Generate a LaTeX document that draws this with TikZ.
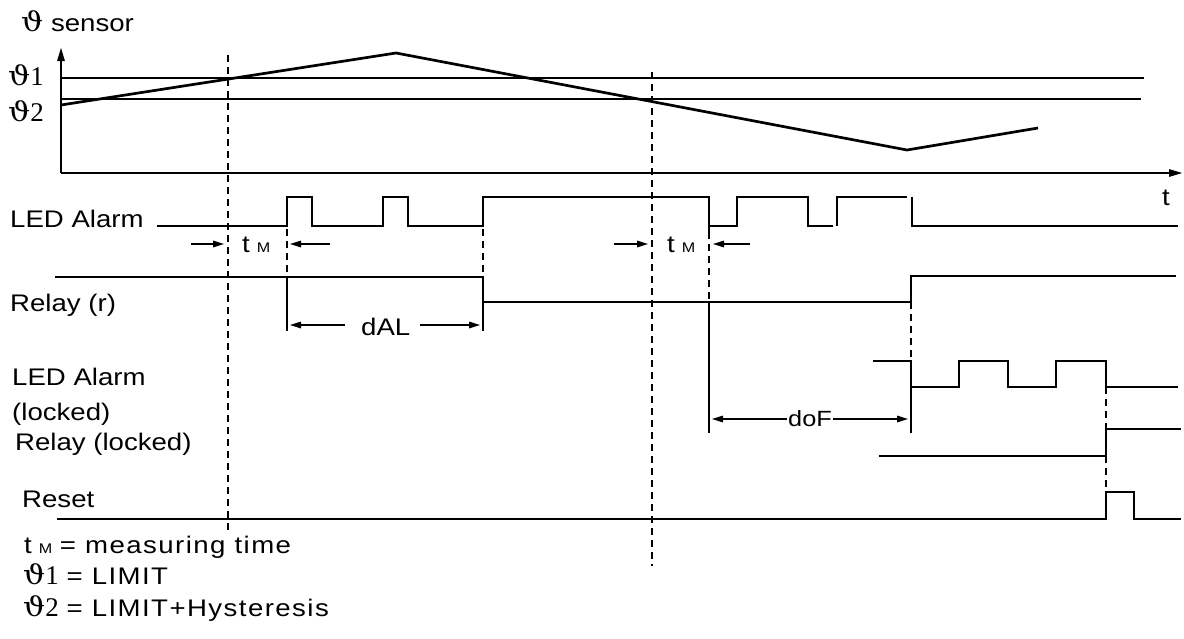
\documentclass[tikz,border=0pt]{standalone}
\usepackage{fontspec}
\setmainfont{Liberation Sans}[FakeStretch=1.15]
\newfontfamily\legfont{Liberation Sans}[FakeStretch=1.15, LetterSpace=6]
\newfontfamily\serfont{Liberation Serif}
\newfontfamily\thfont{DejaVu Serif}[FakeStretch=1.15]
\usetikzlibrary{arrows.meta}
\newcommand\thnum[1]{{\thfont\fontsize{27}{28}\selectfont ϑ}{\serfont\fontsize{27}{28}\selectfont #1}}
\newcommand\tMlabel{t\hspace{7pt}{\fontsize{14}{14}\selectfont M}}
\begin{document}
\begin{tikzpicture}[x=1pt,y=-1pt,
  sig/.style={line width=2.7pt, line join=miter},
  dsh/.style={line width=2.7pt, dash pattern=on 7pt off 5pt},
  lbl/.style={anchor=base west, inner sep=0pt, font=\fontsize{24}{28}\selectfont},
  dim/.style={line width=2.7pt, -{Triangle[length=12pt,width=6pt]}},
  ax/.style={line width=2.7pt, -{Triangle[length=14pt,width=7pt]}}]
\useasboundingbox (0,0) rectangle (1184,638);

% ---------- sensor diagram ----------
\coordinate (o) at (61,173);
\coordinate (ytop) at (61,47);
\coordinate (xend) at (1183,173);
\draw[ax] (o) -- (ytop);
\draw[ax] (o) -- (xend);
\draw[sig] (61,78) -- (1144,78);
\draw[sig] (61,99) -- (1141,99);
\draw[sig] (61,105) -- (396,53) -- (907,150) -- (1038,128);

\node[lbl] (tsens) at (21,31) {\thnum{}\ sensor};
\node[lbl] (th1) at (8,85) {\thnum{1}};
\node[lbl] (th2) at (8,121) {\thnum{2}};
\node[lbl] (tt) at (1162,205) {t};

% long dashed verticals
\draw[dsh] (228,55) -- (228,532);
\draw[dsh] (652,72) -- (652,566);

% ---------- LED Alarm ----------
\node[lbl] (ledA) at (10,227) {LED Alarm};
\draw[sig] (157,226) -- (287,226) -- (287,197) -- (312,197) -- (312,226)
  -- (383,226) -- (383,197) -- (408,197) -- (408,226) -- (483,226)
  -- (483,197) -- (709,197) -- (709,232);
\draw[sig] (709,226) -- (737,226) -- (737,197) -- (808,197) -- (808,226) -- (833,226);
\draw[sig] (837,226) -- (837,197) -- (907,197);
\draw[sig] (912,197) -- (912,226) -- (1178,226);

% t_M markers
\node[lbl] (tm1) at (242,252) {\tMlabel};
\draw[dim] (191,244) -- (225,244);
\draw[dim] (330,244) -- (289,244);
\node[lbl] (tm2) at (667,252) {\tMlabel};
\draw[dim] (614,244) -- (649,244);
\draw[dim] (750,244) -- (712,244);

% ---------- Relay (r) ----------
\node[lbl] (rel) at (10,311) {Relay (r)};
\draw[sig] (55,277) -- (483,277) -- (483,302) -- (911,302) -- (911,276) -- (1176,276);
\draw[dsh] (287,229) -- (287,277);
\draw[sig] (287,277) -- (287,331);
\draw[dsh] (483,229) -- (483,277);
\draw[sig] (483,277) -- (483,331);
\draw[dsh] (709,232) -- (709,302);
\draw[sig] (709,302) -- (709,433);

% dAL
\node[lbl] (dal) at (361,335) {dAL};
\draw[dim] (345,325) -- (289,325);
\draw[dim] (420,325) -- (481,325);

% ---------- LED Alarm (locked) ----------
\node[lbl] (ledL) at (12,385) {LED Alarm};
\node[lbl] (lock) at (12,420) {(locked)};
\draw[dsh] (911,302) -- (911,361);
\draw[sig] (873,361) -- (911,361) -- (911,433);
\draw[sig] (911,387) -- (959,387) -- (959,361) -- (1008,361) -- (1008,387)
  -- (1056,387) -- (1056,361) -- (1106,361) -- (1106,387) -- (1178,387);

% doF
\coordinate (dofL) at (711,419);
\coordinate (dofR) at (909,419);
\draw[line width=2.7pt, {Triangle[length=12pt,width=6pt]}-{Triangle[length=12pt,width=6pt]}]
  (dofL) -- node[fill=white, inner sep=1pt, font=\fontsize{22}{24}\selectfont] (dof) {doF} (dofR);

% ---------- Relay (locked) ----------
\node[lbl] (relL) at (15,450) {Relay (locked)};
\draw[dsh] (1106,387) -- (1106,429);
\draw[sig] (879,456) -- (1106,456) -- (1106,429) -- (1181,429);

% ---------- Reset ----------
\node[lbl] (rst) at (22,507) {Reset};
\draw[dsh] (1106,456) -- (1106,492);
\draw[sig] (57,519) -- (1106,519) -- (1106,492) -- (1134,492) -- (1134,519) -- (1181,519);

% ---------- legend ----------
\node[lbl] (leg1) at (24,553) {\tMlabel\ {\legfont = measuring time}};
\node[lbl] (leg2) at (23,584) {\thnum{1} {\legfont = LIMIT}};
\node[lbl] (leg3) at (23,616) {\thnum{2} {\legfont = LIMIT+Hysteresis}};
\end{tikzpicture}
\end{document}
